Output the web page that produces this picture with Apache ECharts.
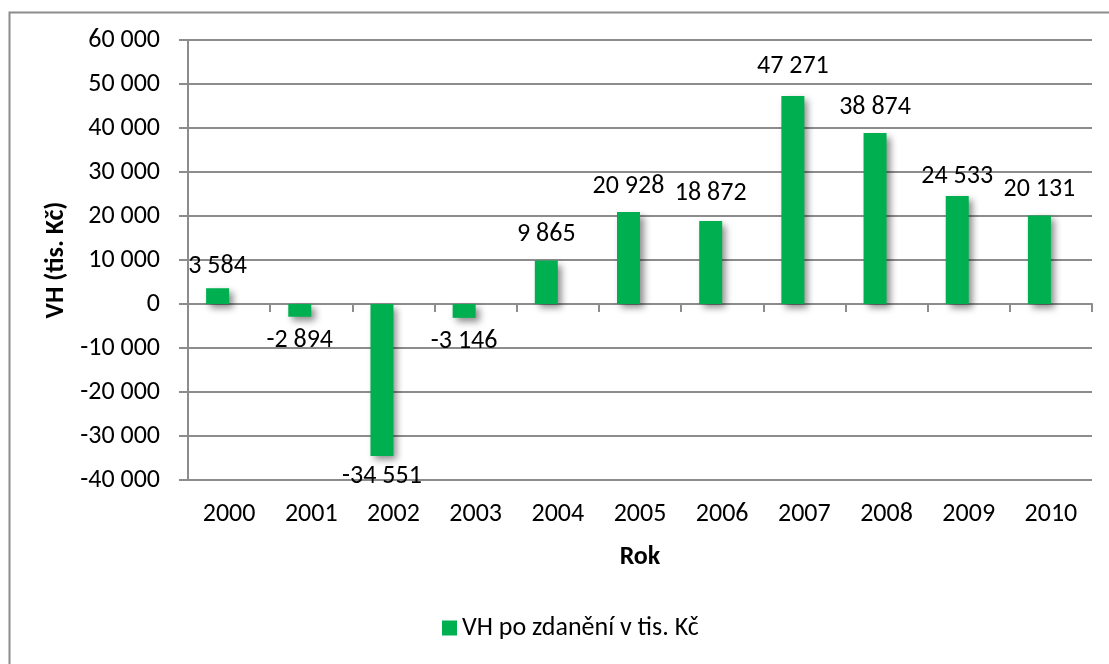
<!DOCTYPE html>
<html>
<head>
<meta charset="utf-8">
<script src="https://cdn.jsdelivr.net/npm/echarts@6/dist/echarts.min.js"></script>
<style>
  html, body { margin: 0; padding: 0; background: #fff; }
  #chart { width: 1109px; height: 664px; }
</style>
</head>
<body>
<div id="chart"></div>
<script>
// data
var years = ["2000", "2001", "2002", "2003", "2004", "2005", "2006", "2007", "2008", "2009", "2010"];
var vhValues = [3584, -2894, -34551, -3146, 9865, 20928, 18872, 47271, 38874, 24533, 20131];
// second (empty) series slot, as in the original workbook - shifts the bars left
var emptyValues = [null, null, null, null, null, null, null, null, null, null, null];
var seriesName = "VH po zdanění v tis. Kč";

// label gap from bar end (labels in the original were nudged by hand)
var labelGap = [9, 11, 7, 11, 13, 12, 14, 17, 12, 7, 13];

var FONT = "Carlito, Calibri, Lato, sans-serif";
var FS = 26;
var GRAY = "#8c8c8c";

// 12345 -> "12 345"
function fmtNum(v) {
  var neg = v < 0;
  var s = Math.abs(v).toString().replace(/\B(?=(\d{3})+(?!\d))/g, " ");
  return (neg ? "-" : "") + s;
}

var barData = vhValues.map(function (v, i) {
  return { value: v, label: { distance: labelGap[i] } };
});

var myChart = echarts.init(document.getElementById("chart"));
var option = {
  backgroundColor: "#fff",
  textStyle: { fontFamily: FONT },
  animation: false,
  graphic: [
    {
      type: "rect",
      left: 7, top: 10,
      shape: { width: 1200, height: 800 },
      style: { fill: "none", stroke: GRAY, lineWidth: 2 },
      z: -10
    }
  ],
  grid: { left: 188, right: 17, top: 40, bottom: 184 },
  legend: {
    data: [seriesName],
    left: 437,
    top: 610,
    itemWidth: 15,
    itemHeight: 15,
    icon: "rect",
    textStyle: { fontFamily: FONT, fontSize: FS, color: "#000" }
  },
  xAxis: [
    {
      // axis line at zero, ticks only
      type: "category",
      data: years,
      axisLine: { onZero: true, lineStyle: { color: GRAY, width: 2 } },
      axisTick: { show: true, length: 8, lineStyle: { color: GRAY, width: 2 } },
      axisLabel: { show: false },
      splitLine: { show: false }
    },
    {
      // labels at the bottom
      type: "category",
      data: years,
      position: "bottom",
      axisLine: { show: false, onZero: false },
      axisTick: { show: false },
      axisLabel: { margin: 21, fontSize: FS, color: "#000", fontFamily: FONT },
      name: "Rok",
      nameLocation: "middle",
      nameGap: 64,
      nameTextStyle: { fontSize: FS, fontWeight: "bold", color: "#000", fontFamily: FONT }
    }
  ],
  yAxis: {
    type: "value",
    min: -40000,
    max: 60000,
    interval: 10000,
    name: "VH (tis. Kč)",
    nameLocation: "middle",
    nameRotate: 90,
    nameGap: 117,
    nameTextStyle: { fontSize: FS, fontWeight: "bold", color: "#000", fontFamily: FONT },
    axisLine: { show: true, lineStyle: { color: GRAY, width: 2 } },
    axisTick: { show: true, length: 9, lineStyle: { color: GRAY, width: 2 } },
    axisLabel: {
      margin: 28,
      fontSize: FS,
      color: "#000",
      fontFamily: FONT,
      formatter: function (v) { return fmtNum(v); }
    },
    splitLine: { show: true, lineStyle: { color: GRAY, width: 2 } }
  },
  series: [
    {
      name: seriesName,
      type: "bar",
      xAxisIndex: 0,
      data: barData,
      barWidth: 23,
      barGap: 0,
      itemStyle: {
        color: "#00b050",
        shadowColor: "rgba(0,0,0,0.45)",
        shadowBlur: 7,
        shadowOffsetX: 4,
        shadowOffsetY: 4
      },
      label: {
        show: true,
        position: "outside",
        fontSize: FS,
        color: "#000",
        fontFamily: FONT,
        formatter: function (p) { return fmtNum(p.value); }
      }
    },
    {
      name: "empty",
      type: "bar",
      xAxisIndex: 0,
      data: emptyValues,
      barWidth: 23,
      barGap: 0,
      silent: true
    }
  ]
};

option && myChart.setOption(option);
</script>
</body>
</html>
